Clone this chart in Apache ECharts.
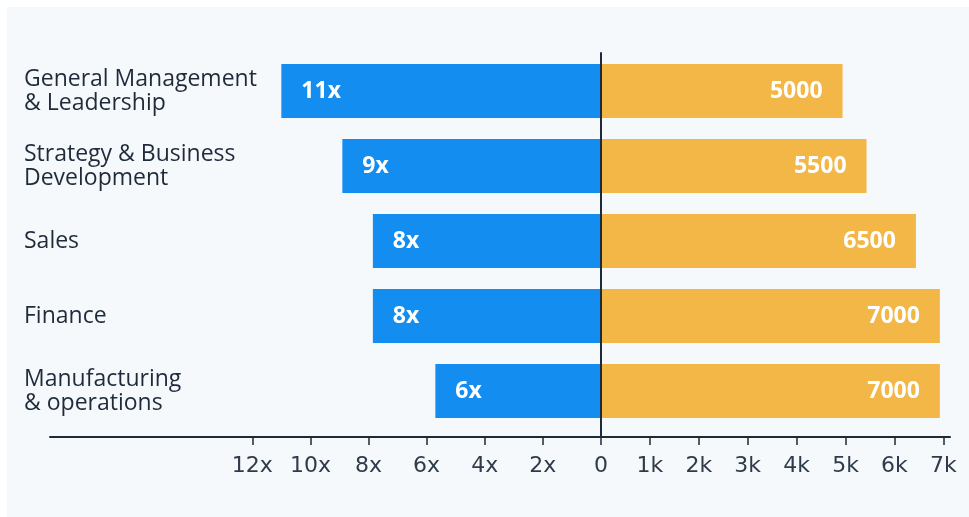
<!DOCTYPE html>
<html>
<head>
<meta charset="utf-8">
<script src="https://cdn.jsdelivr.net/npm/echarts@6/dist/echarts.min.js"></script>
<style>
  html, body { margin: 0; padding: 0; background: #ffffff; }
  #panel { position: absolute; left: 7px; top: 7px; right: 0; bottom: 0; background: #f6f9fb; }
  #chart { position: absolute; left: 0; top: 0; width: 969px; height: 517px; }
</style>
</head>
<body>
<div id="panel"></div>
<div id="chart"></div>
<script>
// ---- data ----
const categories = [
  'General Management\n& Leadership',
  'Strategy & Business\nDevelopment',
  'Sales',
  'Finance',
  'Manufacturing\n& operations'
];
const multipleValues = [11, 8.9, 7.85, 7.85, 5.7];        // bar lengths (x)
const multipleLabels = ['11x', '9x', '8x', '8x', '6x'];
const salaryValues = [4940, 5430, 6440, 6930, 6930];       // bar lengths
const salaryLabels = ['5000', '5500', '6500', '7000', '7000'];
const leftTicks = [0, 2, 4, 6, 8, 10, 12];
const rightTicks = [1000, 2000, 3000, 4000, 5000, 6000, 7000];

const BLUE = '#138df0';
const ORANGE = '#f2b747';
const DARK = '#1e2a38';
const TEXT = '#1f2b3b';
const TICKTEXT = '#2f3b4b';

const chart = echarts.init(document.getElementById('chart'), null, { renderer: 'canvas' });

const valueLabelFont = { color: '#ffffff', fontFamily: 'Open Sans', fontWeight: 'bold', fontSize: 23 };

chart.setOption({
  backgroundColor: 'transparent',
  animation: false,
  grid: [
    { left: 50, width: 551, top: 53.5, height: 375 },
    { left: 601, width: 349, top: 53.5, height: 375 },
    { left: 601, width: 1, top: 53, bottom: 80 }
  ],
  xAxis: [
    {
      gridIndex: 0, type: 'value', inverse: true, min: 0, max: 18.96,
      offset: 8.5,
      splitLine: { show: false },
      axisLine: { show: true, lineStyle: { color: DARK, width: 2 } },
      axisTick: { show: true, length: 8, customValues: leftTicks, lineStyle: { color: DARK, width: 1.5 } },
      axisLabel: {
        customValues: leftTicks, margin: 18,
        formatter: v => v === 0 ? '0' : v + 'x',
        color: TICKTEXT, fontFamily: 'DejaVu Sans', fontSize: 22
      }
    },
    {
      gridIndex: 1, type: 'value', min: 0, max: 7137,
      offset: 8.5,
      splitLine: { show: false },
      axisLine: { show: true, lineStyle: { color: DARK, width: 2 } },
      axisTick: { show: true, length: 8, customValues: rightTicks, lineStyle: { color: DARK, width: 1.5 } },
      axisLabel: {
        customValues: rightTicks, margin: 18,
        formatter: v => (v / 1000) + 'k',
        color: TICKTEXT, fontFamily: 'DejaVu Sans', fontSize: 22
      }
    },
    { gridIndex: 2, type: 'value', show: false }
  ],
  yAxis: [
    {
      gridIndex: 0, type: 'category', inverse: true, data: categories, position: 'left',
      axisLine: { show: false }, axisTick: { show: false },
      axisLabel: {
        align: 'left', margin: 26, color: TEXT,
        fontFamily: 'Open Sans', fontSize: 23, lineHeight: 24
      }
    },
    {
      gridIndex: 1, type: 'category', inverse: true, data: categories, show: false
    },
    {
      gridIndex: 2, type: 'value', z: 10,
      axisLine: { show: true, onZero: false, lineStyle: { color: DARK, width: 2 } },
      axisTick: { show: false }, axisLabel: { show: false }, splitLine: { show: false }
    }
  ],
  series: [
    {
      type: 'bar', xAxisIndex: 0, yAxisIndex: 0, data: multipleValues,
      barWidth: 54, itemStyle: { color: BLUE },
      label: {
        show: true, position: 'insideLeft', distance: 20,
        formatter: p => multipleLabels[p.dataIndex], ...valueLabelFont
      }
    },
    {
      type: 'bar', xAxisIndex: 1, yAxisIndex: 1, data: salaryValues,
      barWidth: 54, itemStyle: { color: ORANGE },
      label: {
        show: true, position: 'insideRight', distance: 20,
        formatter: p => salaryLabels[p.dataIndex], ...valueLabelFont
      }
    }
  ]
});
</script>
</body>
</html>
